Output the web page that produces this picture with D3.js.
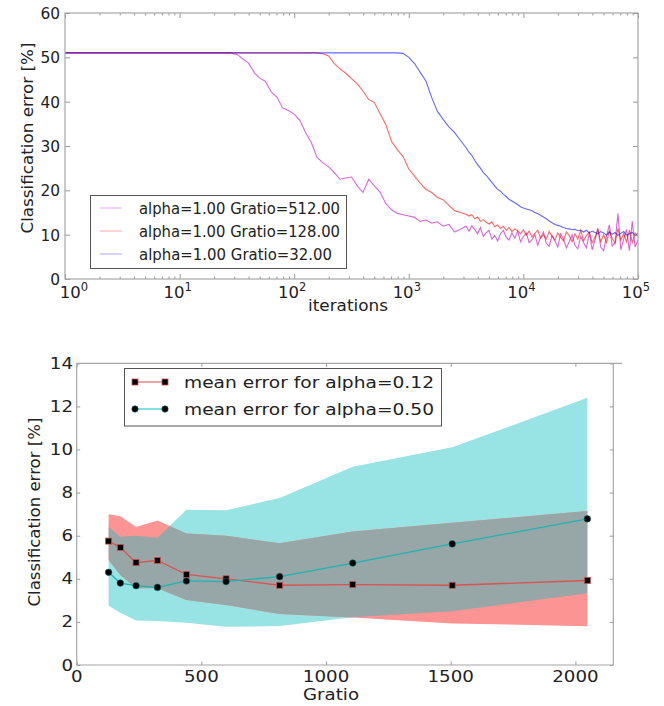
<!DOCTYPE html>
<html>
<head>
<meta charset="utf-8">
<script src="https://cdn.jsdelivr.net/npm/d3@7"></script>
<style>
  body { margin: 0; background: #fff; }
  text { font-family: "DejaVu Sans", sans-serif; fill: #222; }
</style>
</head>
<body>
<div id="chart"></div>
<script>
// ---------- top panel: error vs iterations ----------
var iterations = [1, 28, 32, 35, 40, 45, 50, 56, 63, 71, 79, 89, 100, 112, 126, 141, 158, 178, 200, 224,
  251, 282, 316, 355, 398, 447, 501, 562, 631, 708, 794, 891, 1000, 1122, 1259, 1413, 1585, 1778, 1995, 2239,
  2512, 2818, 3162,
  3350, 3548, 3758, 3981, 4217, 4467, 4732, 5012, 5309, 5623, 5957, 6310, 6683, 7079, 7499, 7943, 8414, 8913, 9441, 10000,
  10593, 11220, 11885, 12589, 13335, 14125, 14962, 15849, 16788, 17783, 18836, 19953, 21135, 22387, 23714, 25119,
  26607, 28184, 29854, 31623, 33497, 35481, 37584, 39811, 42170, 44668, 47315, 50119, 53088, 56234, 59566, 63096,
  66834, 70795, 74989, 79433, 84140, 89125, 94406, 100000];

var err512 = [51, 51, 50.6, 49.8, 48.7, 46.5, 45.3, 44.6, 42.2, 41.0, 38.6, 38.0, 37.2, 35.8, 33.0, 30.8, 27.5, 26.2, 25.3, 24.0,
  22.5, 22.8, 23.0, 21.0, 19.5, 22.5, 21.0, 19.6, 17.0, 15.6, 14.8, 14.5, 14.2, 13.9, 13.0, 13.3, 12.6, 12.9, 11.9, 12.3,
  10.6, 11.2, 11.9,
  10.8, 12.0, 11.2, 10.2, 11.6, 9.6, 10.4, 11.0, 9.0, 9.8, 8.6, 10.2, 11.0, 9.4, 8.8, 10.4, 9.2, 10.8, 8.4, 9.6,
  10.4, 8.2, 8.8, 10.0, 7.6, 9.4, 10.6, 8.0, 7.4, 9.8, 8.6, 7.2, 10.2, 9.0, 7.0, 8.4, 10.0, 7.6, 6.8, 9.6,
  8.2, 7.0, 10.4, 6.6, 8.8, 11.4, 7.2, 6.4, 9.6, 12.2, 7.4, 8.2, 14.8, 6.6, 9.0, 11.2, 6.4, 13.0, 7.2, 8.8];

var err128 = [51, 51, 51, 51, 51, 51, 51, 51, 51, 51, 51, 51, 51, 51, 51, 51, 51,
  50.8, 50.3, 48.6, 47.4, 46.4, 45.2, 44.0, 42.4, 40.5, 39.8, 37.3, 34.8, 31.0, 29.2, 27.6, 24.8, 23.2, 21.6, 20.2,
  19.5, 18.4, 17.9, 16.6, 15.4, 15.0, 14.6,
  14.2, 14.5, 13.6, 14.0, 13.0, 13.4, 12.8, 12.4, 12.9, 11.8, 12.2, 11.4, 11.9, 11.0, 11.6, 10.7, 11.3, 10.9, 10.2, 11.1,
  9.9, 10.8, 9.5, 10.3, 11.0, 9.2, 10.0, 9.0, 10.7, 9.6, 8.8, 10.4, 9.4, 8.6, 10.6, 9.8, 8.4, 10.2, 9.0, 11.0,
  8.6, 9.8, 10.6, 8.2, 9.4, 11.2, 8.4, 10.0, 8.2, 10.8, 9.2, 8.0, 11.4, 8.8, 10.2, 8.4, 11.0, 8.2, 10.4, 9.6];

var err32 = [51, 51, 51, 51, 51, 51, 51, 51, 51, 51, 51, 51, 51, 51, 51, 51, 51, 51, 51, 51,
  51, 51, 51, 51, 51, 51, 51, 51, 51, 51, 51,
  50.9, 50.0, 48.6, 46.6, 44.6, 40.9, 37.8, 36.0, 34.3, 33.0, 31.3, 29.6,
  28.6, 27.9, 26.8, 25.8, 25.0, 24.0, 23.4, 22.6, 21.8, 21.0, 20.2, 19.8, 19.1, 18.6, 18.0, 17.6, 17.2, 16.8, 16.3, 16.0,
  15.8, 15.6, 15.4, 15.0, 14.7, 14.4, 14.0, 13.6, 13.1, 12.7, 12.3, 12.1, 11.9, 11.6, 11.4, 11.3, 11.1, 11.2, 10.9, 11.0,
  10.6, 11.0, 10.4, 10.8, 10.5, 10.2, 10.7, 10.4, 9.9, 10.6, 10.1, 10.5, 9.8, 10.3, 10.7, 9.9, 10.2, 10.5, 9.8, 10.3];

var topLegend = ["alpha=1.00 Gratio=512.00", "alpha=1.00 Gratio=128.00", "alpha=1.00 Gratio=32.00"];
var topYTicks = [0, 10, 20, 30, 40, 50, 60];

// ---------- bottom panel: error vs Gratio ----------
var gratio = [128, 175, 238, 324, 440, 599, 814, 1107, 1506, 2048];
var meanRed = [5.75, 5.45, 4.75, 4.85, 4.2, 4.0, 3.7, 3.73, 3.7, 3.92];
var upperRed = [7.0, 6.9, 6.4, 6.7, 6.1, 6.0, 5.65, 6.2, 6.6, 7.15];
var lowerRed = [4.87, 4.18, 3.56, 3.56, 3.02, 2.78, 2.37, 2.2, 1.93, 1.8];
var meanCyan = [4.3, 3.8, 3.68, 3.6, 3.9, 3.87, 4.1, 4.73, 5.62, 6.78];
var upperCyan = [6.4, 5.95, 6.0, 5.9, 7.2, 7.18, 7.75, 9.2, 10.1, 12.4];
var lowerCyan = [2.75, 2.43, 2.06, 2.04, 1.96, 1.77, 1.81, 2.22, 2.5, 3.33];
var bottomLegend = ["mean error for alpha=0.12", "mean error for alpha=0.50"];
var bottomXTicks = [0, 500, 1000, 1500, 2000];
var bottomYTicks = [0, 2, 4, 6, 8, 10, 12, 14];

var svg = d3.select("#chart").append("svg")
  .attr("width", 664)
  .attr("height", 706);

var frameColor = "#a6a6a6";

function inwardAxis(axis, tx, ty, size) {
  svg.append("g")
    .attr("transform", `translate(${tx},${ty})`)
    .call(axis.tickSize(size).tickFormat(""))
    .call(g => g.select(".domain").remove())
    .call(g => g.selectAll("line").attr("stroke", "#999"));
}

// pin a label to the width measured on the reference
function fit(sel, len) {
  return sel.attr("textLength", len).attr("lengthAdjust", "spacingAndGlyphs");
}

// ===== top panel =====
var xTop = d3.scaleLog().domain([1, 1e5]).range([65, 638]);
var yTop = d3.scaleLinear().domain([0, 60]).range([279, 13]);

var logTicks = xTop.ticks();
var majors = logTicks.filter(d => Math.abs(Math.log10(d) - Math.round(Math.log10(d))) < 1e-9);
var minors = logTicks.filter(d => majors.indexOf(d) < 0);

var defs = svg.append("defs");
defs.append("clipPath").attr("id", "clipTop")
  .append("rect").attr("x", 65).attr("y", 13).attr("width", 573).attr("height", 266);

// drawn so the blue run ends on top, as in the flat start of the reference
var topSeries = [
  { values: err512, color: "#bf00bf" },
  { values: err128, color: "#ff0000" },
  { values: err32, color: "#0000ff" }
];

var lineTop = d3.line()
  .x((d, i) => xTop(iterations[i]))
  .y(d => yTop(d));

svg.append("g").attr("clip-path", "url(#clipTop)")
  .selectAll("path")
  .data(topSeries)
  .enter()
  .append("path")
  .attr("d", d => lineTop(d.values))
  .attr("fill", "none")
  .attr("stroke", d => d.color)
  .attr("stroke-opacity", 0.6)
  .attr("stroke-width", 1.1);

inwardAxis(d3.axisBottom(xTop).tickValues(majors), 0, 279, -5);
inwardAxis(d3.axisBottom(xTop).tickValues(minors), 0, 279, -2.5);
inwardAxis(d3.axisTop(xTop).tickValues(majors), 0, 13, -5);
inwardAxis(d3.axisTop(xTop).tickValues(minors), 0, 13, -2.5);
inwardAxis(d3.axisLeft(yTop).tickValues(topYTicks), 65, 0, -5);
inwardAxis(d3.axisRight(yTop).tickValues(topYTicks), 638, 0, -5);

svg.append("rect")
  .attr("x", 65).attr("y", 13).attr("width", 573).attr("height", 266)
  .attr("fill", "none").attr("stroke", frameColor).attr("stroke-width", 1.2);

svg.append("g").selectAll("text")
  .data(topYTicks)
  .enter()
  .append("text")
  .attr("x", 60)
  .attr("y", d => yTop(d) + 6)
  .attr("text-anchor", "end")
  .style("font-size", "16px")
  .text(d => d)
  .attr("textLength", d => String(d).length * 9.8)
  .attr("lengthAdjust", "spacingAndGlyphs");

var xLab = svg.append("g").selectAll("text")
  .data(majors)
  .enter()
  .append("text")
  .attr("x", (d, i) => xTop(d) + (i === 0 ? 9 : -2))
  .attr("y", 298)
  .attr("text-anchor", "middle")
  .style("font-size", "16.5px");
xLab.append("tspan").text("10");
xLab.append("tspan")
  .attr("dy", -7)
  .style("font-size", "11.5px")
  .text(d => Math.round(Math.log10(d)));

fit(svg.append("text")
  .attr("x", 348).attr("y", 311)
  .attr("text-anchor", "middle")
  .style("font-size", "16.5px")
  .text("iterations"), 80);

fit(svg.append("text")
  .attr("transform", "translate(33,138) rotate(-90)")
  .attr("text-anchor", "middle")
  .style("font-size", "16px")
  .text("Classification error [%]"), 191);

// legend top
var legTop = svg.append("g");
legTop.append("rect")
  .attr("x", 90.5).attr("y", 195.5).attr("width", 256).attr("height", 73)
  .attr("fill", "#fff").attr("stroke", "#555");
var legColors = ["#bf00bf", "#ff0000", "#0000ff"];
var legWidths = [201, 201, 193];
topLegend.forEach(function(label, i) {
  var yy = 208 + i * 23;
  legTop.append("line")
    .attr("x1", 100).attr("x2", 122).attr("y1", yy).attr("y2", yy)
    .attr("stroke", legColors[i]).attr("stroke-opacity", 0.35);
  fit(legTop.append("text")
    .attr("x", 139).attr("y", yy + 5.5)
    .style("font-size", "15px")
    .text(label), legWidths[i]);
});

// ===== bottom panel =====
var xBot = d3.scaleLinear().domain([0, 2152]).range([76.7, 613.3]);
var yBot = d3.scaleLinear().domain([0, 14]).range([665, 363.3]);
var digitW = 11.6;

function bandArea(lo, hi) {
  return d3.area()
    .x((d, i) => xBot(gratio[i]))
    .y0((d, i) => yBot(lo[i]))
    .y1((d, i) => yBot(hi[i]))(gratio);
}

defs.append("clipPath").attr("id", "clipRed")
  .append("path").attr("d", bandArea(lowerRed, upperRed));

svg.append("path").attr("d", bandArea(lowerCyan, upperCyan)).attr("fill", "#98e3e3");
svg.append("path").attr("d", bandArea(lowerRed, upperRed)).attr("fill", "#fc9494");
svg.append("path").attr("d", bandArea(lowerCyan, upperCyan))
  .attr("clip-path", "url(#clipRed)")
  .attr("fill", "#97a6a6");

var lineBot = d3.line()
  .x((d, i) => xBot(gratio[i]))
  .y(d => yBot(d));

svg.append("path").attr("d", lineBot(meanRed))
  .attr("fill", "none").attr("stroke", "#d9534f").attr("stroke-width", 1.3);
svg.append("g").selectAll("rect")
  .data(meanRed)
  .enter()
  .append("rect")
  .attr("x", (d, i) => xBot(gratio[i]) - 3)
  .attr("y", d => yBot(d) - 3)
  .attr("width", 6).attr("height", 6)
  .attr("fill", "#000").attr("stroke", "#c85050").attr("stroke-width", 0.8);

svg.append("path").attr("d", lineBot(meanCyan))
  .attr("fill", "none").attr("stroke", "#1fb4b4").attr("stroke-width", 1.3);
svg.append("g").selectAll("circle")
  .data(meanCyan)
  .enter()
  .append("circle")
  .attr("cx", (d, i) => xBot(gratio[i]))
  .attr("cy", d => yBot(d))
  .attr("r", 3.3)
  .attr("fill", "#000").attr("stroke", "#0c6f6f").attr("stroke-width", 0.6);

inwardAxis(d3.axisLeft(yBot).tickValues(bottomYTicks), 76.7, 0, -3.5);
inwardAxis(d3.axisRight(yBot).tickValues(bottomYTicks), 613.3, 0, -3.5);
inwardAxis(d3.axisBottom(xBot).tickValues(bottomXTicks), 0, 665, -3.5);
inwardAxis(d3.axisTop(xBot).tickValues(bottomXTicks), 0, 363.3, -3.5);

var frame = svg.append("g").attr("stroke", frameColor).attr("stroke-width", 1.2);
frame.append("line").attr("x1", 76.7).attr("x2", 622).attr("y1", 363.3).attr("y2", 363.3);
frame.append("line").attr("x1", 76.7).attr("x2", 613.3).attr("y1", 665).attr("y2", 665);
frame.append("line").attr("x1", 76.7).attr("x2", 76.7).attr("y1", 363.3).attr("y2", 665);
frame.append("line").attr("x1", 613.3).attr("x2", 613.3).attr("y1", 363.3).attr("y2", 665);

svg.append("g").selectAll("text")
  .data(bottomYTicks)
  .enter()
  .append("text")
  .attr("x", 73)
  .attr("y", d => yBot(d) + 5.5)
  .attr("text-anchor", "end")
  .style("font-size", "15.5px")
  .text(d => d)
  .attr("textLength", d => String(d).length * digitW)
  .attr("lengthAdjust", "spacingAndGlyphs");

svg.append("g").selectAll("text")
  .data(bottomXTicks)
  .enter()
  .append("text")
  .attr("x", d => xBot(d))
  .attr("y", 682)
  .attr("text-anchor", "middle")
  .style("font-size", "15.5px")
  .text(d => d)
  .attr("textLength", d => String(d).length * digitW)
  .attr("lengthAdjust", "spacingAndGlyphs");

fit(svg.append("text")
  .attr("x", 331).attr("y", 700)
  .attr("text-anchor", "middle")
  .style("font-size", "15.5px")
  .text("Gratio"), 56);

fit(svg.append("text")
  .attr("transform", "translate(40,512) rotate(-90)")
  .attr("text-anchor", "middle")
  .style("font-size", "16px")
  .text("Classification error [%]"), 189);

// legend bottom
var legBot = svg.append("g");
legBot.append("rect")
  .attr("x", 124.5).attr("y", 368.5).attr("width", 317).attr("height", 57.5)
  .attr("fill", "#fff").attr("stroke", "#555");
var botLegendStyles = [
  { line: "#e57373", marker: "square" },
  { line: "#40d0d0", marker: "circle" }
];
bottomLegend.forEach(function(label, i) {
  var yy = 382 + i * 27;
  legBot.append("line")
    .attr("x1", 135).attr("x2", 165).attr("y1", yy).attr("y2", yy)
    .attr("stroke", botLegendStyles[i].line).attr("stroke-width", 1.3);
  [135, 165].forEach(function(xx) {
    if (botLegendStyles[i].marker === "square") {
      legBot.append("rect")
        .attr("x", xx - 3).attr("y", yy - 3).attr("width", 6).attr("height", 6)
        .attr("fill", "#000").attr("stroke", "#c85050").attr("stroke-width", 0.8);
    } else {
      legBot.append("circle")
        .attr("cx", xx).attr("cy", yy).attr("r", 3.2)
        .attr("fill", "#000").attr("stroke", "#0c6f6f").attr("stroke-width", 0.6);
    }
  });
  fit(legBot.append("text")
    .attr("x", 184).attr("y", yy + 6)
    .style("font-size", "16.5px")
    .text(label), 250);
});
</script>
</body>
</html>
